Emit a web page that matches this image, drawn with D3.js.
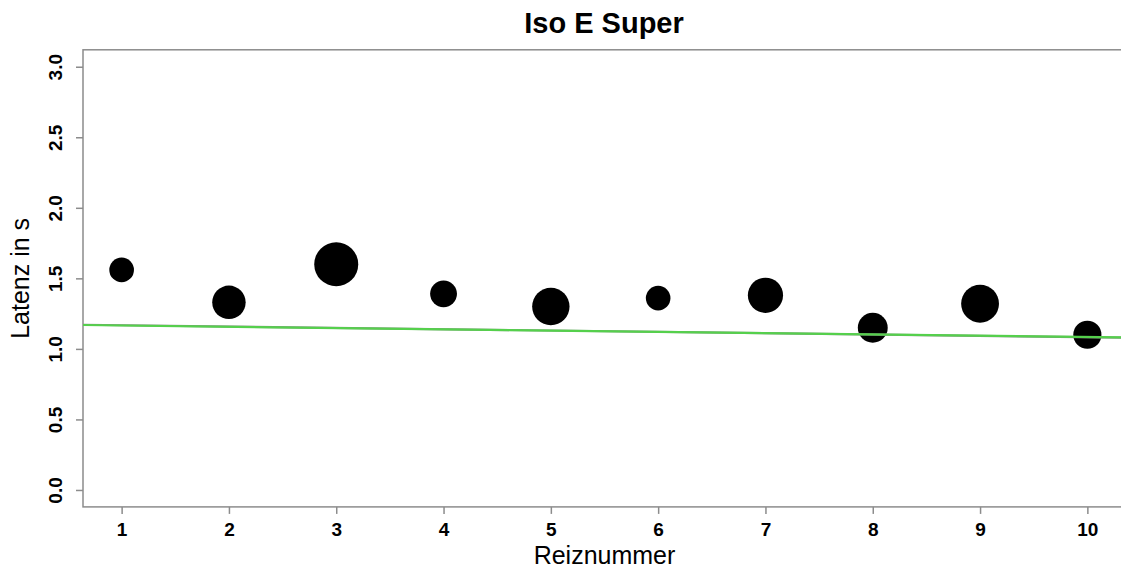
<!DOCTYPE html>
<html>
<head>
<meta charset="utf-8">
<script src="https://cdn.jsdelivr.net/npm/d3@7"></script>
<style>
  body { margin: 0; background: #fff; }
  svg { display: block; font-family: "Liberation Sans", Arial, Helvetica, sans-serif; }
</style>
</head>
<body>
<svg id="chart" width="1121" height="572"></svg>
<script>
// Reiznummer (x) und mittlere Latenz in s (y)
const reize = [1, 2, 3, 4, 5, 6, 7, 8, 9, 10];
const latenz = [1.56, 1.33, 1.60, 1.39, 1.30, 1.36, 1.38, 1.15, 1.32, 1.10];
// relative Punktgroesse (cex)
const gewicht = [0.56, 0.76, 1.0, 0.61, 0.85, 0.56, 0.80, 0.68, 0.86, 0.64];

const yTicks = [0, 0.5, 1, 1.5, 2, 2.5, 3];
const xTicks = [1, 2, 3, 4, 5, 6, 7, 8, 9, 10];

// Regressionsgeraden: [Achsenabschnitt, Steigung]
const fitGrau = [1.177, -0.0094];
const fitGruen = [1.175, -0.0090];

const svg = d3.select('#chart');
const plotLeft = 83, plotRight = 1126, plotTop = 49.8, plotBottom = 506.9;

const x = d3.scaleLinear().domain([0.64, 10.36]).range([plotLeft, plotRight]);
const y = d3.scaleLinear().domain([-0.12, 3.12]).range([plotBottom, plotTop]);
const r = d3.scaleLinear().domain([0, 1]).range([0, 22]);

svg.append('defs').append('clipPath').attr('id', 'plotclip')
  .append('rect').attr('x', plotLeft).attr('y', plotTop)
  .attr('width', plotRight - plotLeft).attr('height', plotBottom - plotTop);

// Rahmen
svg.append('rect')
  .attr('x', plotLeft).attr('y', plotTop)
  .attr('width', plotRight - plotLeft).attr('height', plotBottom - plotTop)
  .attr('fill', 'none').attr('stroke', '#8c8c8c').attr('stroke-width', 1.5);

// y-Achse
const yAxis = svg.append('g')
  .attr('transform', `translate(${plotLeft},0)`)
  .call(d3.axisLeft(y).tickValues(yTicks).tickFormat(d3.format('.1f')).tickSize(7).tickPadding(0));
yAxis.select('.domain').remove();
yAxis.selectAll('.tick line').attr('stroke', '#8c8c8c').attr('stroke-width', 1.5);
yAxis.selectAll('.tick text')
  .attr('x', 0).attr('y', 0).attr('dy', 0)
  .attr('transform', 'translate(-21,0) rotate(-90)')
  .attr('text-anchor', 'middle')
  .attr('font-size', 19).attr('font-weight', 'bold').attr('fill', '#000');

// x-Achse
const xAxis = svg.append('g')
  .attr('transform', `translate(0,${plotBottom})`)
  .call(d3.axisBottom(x).tickValues(xTicks).tickSize(7).tickPadding(0));
xAxis.select('.domain').remove();
xAxis.selectAll('.tick line').attr('stroke', '#8c8c8c').attr('stroke-width', 1.5);
xAxis.selectAll('.tick text')
  .attr('y', 29).attr('dy', 0)
  .attr('font-size', 19).attr('font-weight', 'bold').attr('fill', '#000');

// Punkte
svg.append('g').selectAll('circle')
  .data(reize)
  .enter()
  .append('circle')
  .attr('cx', (d, i) => x(d))
  .attr('cy', (d, i) => y(latenz[i]))
  .attr('r', (d, i) => r(gewicht[i]))
  .attr('fill', '#000');

// Regressionsgeraden
const lines = svg.append('g').attr('clip-path', 'url(#plotclip)');
[[fitGrau, '#8a8a8a'], [fitGruen, '#55d04c']].forEach(([fit, col]) => {
  const [a, b] = fit;
  lines.append('line')
    .attr('x1', x(0)).attr('y1', y(a))
    .attr('x2', x(11)).attr('y2', y(a + b * 11))
    .attr('stroke', col).attr('stroke-width', 2.2);
});

// Titel und Achsenbeschriftungen
svg.append('text')
  .attr('x', 604).attr('y', 32.5)
  .attr('text-anchor', 'middle')
  .attr('font-size', 29).attr('font-weight', 'bold')
  .text('Iso E Super');

svg.append('text')
  .attr('x', (plotLeft + plotRight) / 2).attr('y', 564)
  .attr('text-anchor', 'middle')
  .attr('font-size', 25)
  .text('Reiznummer');

svg.append('text')
  .attr('transform', `translate(29,${(plotTop + plotBottom) / 2}) rotate(-90)`)
  .attr('text-anchor', 'middle')
  .attr('font-size', 25)
  .text('Latenz in s');
</script>
</body>
</html>
